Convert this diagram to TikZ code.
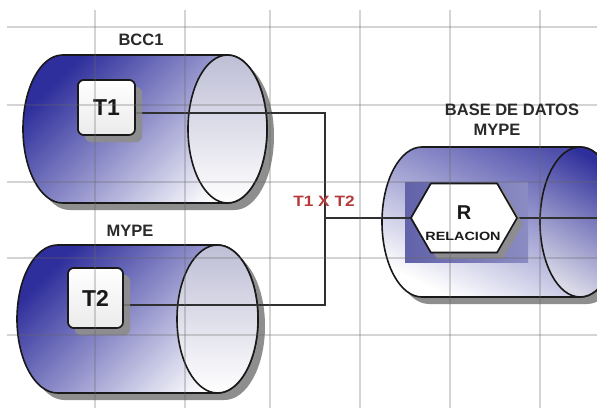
\documentclass[tikz,border=0pt]{standalone}
\usepackage{fontspec}
\setmainfont{Liberation Sans}
\usepackage{graphicx}
\usetikzlibrary{shapes.symbols,shadows}
\definecolor{cylblue}{HTML}{2E2E9C}
\definecolor{midlav}{HTML}{9090C8}
\definecolor{facetop}{HTML}{BEBED6}
\definecolor{shadowgray}{HTML}{8E8E8E}
\definecolor{innerA}{HTML}{6262AA}
\definecolor{innerB}{HTML}{8C8CC4}
\definecolor{labelred}{HTML}{B53A3A}
\definecolor{labeltxt}{HTML}{2A2A2A}
\definecolor{wire}{HTML}{303030}
\newcommand\mycyl[7]{%
  \fill[shadowgray] (#2+7,#3+#5-7) -- (#1+7,#3+#5-7)
     arc[start angle=90,end angle=270,x radius=#4pt,y radius=#5pt]
     -- (#2+7,#3-#5-7)
     arc[start angle=-90,end angle=90,x radius=#4pt,y radius=#5pt] -- cycle;
  \shadedraw[#6] (#2,#3+#5) -- (#1,#3+#5)
     arc[start angle=90,end angle=270,x radius=#4pt,y radius=#5pt]
     -- (#2,#3-#5)
     arc[start angle=-90,end angle=90,x radius=#4pt,y radius=#5pt] -- cycle;
  \shadedraw[#7] (#2,#3) ellipse[x radius=#4pt,y radius=#5pt];
}
\tikzset{
  outline/.style={draw=black!90,line width=1.6pt},
  bodyL/.style={outline,top color=cylblue,middle color=midlav!75!white,bottom color=white,shading angle=45},
  faceL/.style={outline,top color=facetop,bottom color=white},
  bodyR/.style={outline,top color=cylblue!85,middle color=midlav!55!white,bottom color=white,shading angle=-25},
  faceR/.style={outline,top color=cylblue,bottom color=facetop!60!white,shading angle=-30},
  gridline/.style={draw=black!60,opacity=0.28,line width=1.4pt},
  tbox/.style={outline,rounded corners=6pt,top color=white,bottom color=black!8,
    drop shadow={shadow xshift=7pt,shadow yshift=-7pt,fill=shadowgray,opacity=0.75},
    inner sep=0pt,font=\fontsize{23}{24}\selectfont\bfseries,text=black!90},
  hexa/.style={outline,signal,signal to=west and east,signal pointer angle=120,
    fill=white,minimum width=106pt,minimum height=69pt,inner sep=0pt,
    drop shadow={shadow xshift=6pt,shadow yshift=-6pt,fill=shadowgray,opacity=0.75}},
  wireline/.style={draw=wire,line width=2.2pt},
  lbl/.style={text=labeltxt,font=\fontsize{16.5}{18}\selectfont\bfseries,inner sep=0pt},
}
\begin{document}
\begin{tikzpicture}[x=1pt,y=1pt]
\useasboundingbox (0,0) rectangle (597,408);
\clip (0,0) rectangle (597,408);
\fill[white] (0,0) rectangle (597,408);
% cylinders
\mycyl{62.5}{227.5}{279}{39.5}{74}{bodyL}{faceL}
\mycyl{57.5}{217.5}{89}{40.5}{74}{bodyL}{faceL}
\mycyl{422}{580}{186}{40}{75}{bodyR}{faceR}
% inner rectangle of the right cylinder
\shade[left color=innerA,right color=innerB] (405,146) rectangle (528,226);
% junction coordinates
\coordinate (j1) at (325,295);
\coordinate (j2) at (325,103);
\coordinate (rend) at (597,190);
% nodes
\node[tbox,minimum width=57pt,minimum height=55pt] (t1) at (106.5,300.5) {T1};
\node[tbox,minimum width=55pt,minimum height=60pt] (t2) at (95.5,110) {T2};
\node[hexa] (hex) at (464,190) {};
% connectors
\draw[wireline] (t1.east |- j1) -- (j1) -- (j2) -- (t2.east |- j2);
\draw[wireline] (j1 |- hex.west) -- (hex.west);
\draw[wireline] (hex.east) -- (rend);
% redraw boxes on top of wire starts
\node[tbox,minimum width=57pt,minimum height=55pt] at (t1) {T1};
\node[tbox,minimum width=55pt,minimum height=60pt] at (t2) {T2};
\node[hexa] at (hex) {};
\node[text=black!90,font=\fontsize{20}{21}\selectfont\bfseries,inner sep=0pt] (rtxt) at (464,195) {R};
\node[text=black!90,font=\fontsize{12}{13}\selectfont\bfseries,inner sep=0pt] (reltxt) at (463,172) {\scalebox{1.2}[1]{RELACION}};
% grid on top
\foreach \x in {95,185,270,360,450,540} \draw[gridline] (\x,398) -- (\x,0);
\foreach \y in {27,105,182,258,335} \draw[gridline] (7,408-\y) -- (597,408-\y);
% labels
\node[lbl] (lbcc) at (141,368) {BCC1};
\node[lbl] (lmype) at (130,177) {MYPE};
\node[lbl] (lbase) at (512,298) {BASE DE DATOS};
\node[lbl] (lmype2) at (497,278) {MYPE};
\node[text=labelred,font=\fontsize{15}{16}\selectfont\bfseries,inner sep=0pt] (lx) at (324,207) {\scalebox{1.15}[1]{T1 X T2}};
\end{tikzpicture}
\end{document}
